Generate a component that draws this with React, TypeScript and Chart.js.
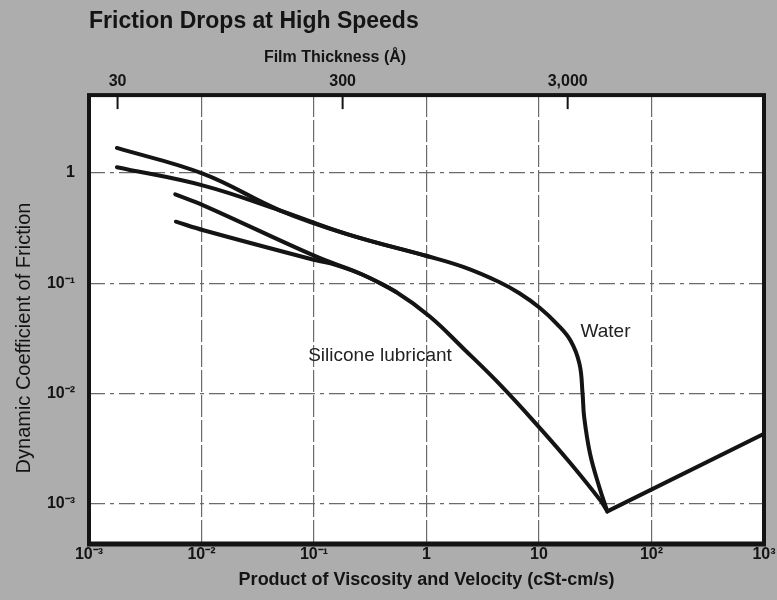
import React, { useEffect, useRef } from "react";
import { Chart, registerables } from "chart.js";

Chart.register(...registerables);

// ---------- data ----------
const xTicks = [1e-3, 1e-2, 1e-1, 1, 10, 100, 1000];
const xTickLabels = ["10⁻³", "10⁻²", "10⁻¹", "1", "10", "10²", "10³"];
const yTicks = [1, 0.1, 0.01, 0.001];
const yTickLabels = ["1", "10⁻¹", "10⁻²", "10⁻³"];
const filmTicks = [30, 300, 3000];
const filmTickLabels = ["30", "300", "3,000"];
const filmRange = [22.4, 22360];

// Water (two converging branches)
const water1X = [0.00177, 0.0104, 0.0502, 0.2, 1.045, 2.15, 4.42, 6.7, 10.2, 14.4, 19.05, 22.9, 24.4, 25.2, 28.4, 34.3, 40.5];
const water1Y = [1.69, 0.983, 0.457, 0.278, 0.175, 0.14, 0.1027, 0.0812, 0.0597, 0.0428, 0.0302, 0.01855, 0.00994, 0.0061, 0.00285, 0.00142, 0.00085];
const water2X = [0.00177, 0.0104, 0.0502, 0.2, 1.045];
const water2Y = [1.13, 0.77, 0.457, 0.278, 0.175];

// Silicone lubricant (two converging branches)
const silicone1X = [0.00584, 0.0105, 0.1026, 0.268, 0.537, 1.07, 2.16, 4.66, 10.1, 18.8, 35.1, 40.5];
const silicone1Y = [0.641, 0.507, 0.176, 0.12, 0.0834, 0.0499, 0.0252, 0.0116, 0.0049, 0.00236, 0.00107, 0.00085];
const silicone2X = [0.00592, 0.0106, 0.1026, 0.155, 0.268, 0.537];
const silicone2Y = [0.362, 0.301, 0.162, 0.147, 0.12, 0.0834];

// common rising branch at high speed
const riseX = [40.5, 1000];
const riseY = [0.00085, 0.0043];

// annotation anchors (data coordinates)
const waterLabelAt = [39, 0.0363];
const siliconeLabelAt = [0.386, 0.022];

// ---------- styling ----------
const FONT = "'Liberation Sans', Arial, Helvetica, sans-serif";
const BG = "#adadad";
const INK = "#141414";
const GRID = "#6a6a6a";

const pts = (xs: number[], ys: number[]) => xs.map((x, i) => ({ x, y: ys[i] }));

const lineDs = (label: string, xs: number[], ys: number[], tension = 0.4) => ({
  label,
  data: pts(xs, ys),
  borderColor: INK,
  borderWidth: 4,
  pointRadius: 0,
  fill: false,
  borderCapStyle: "round" as const,
  borderJoinStyle: "round" as const,
  tension,
});

const decorPlugin = {
  id: "decor",
  beforeDraw(chart: any) {
    const { ctx, chartArea: a, width, height } = chart;
    ctx.save();
    ctx.fillStyle = BG;
    ctx.fillRect(0, 0, width, height);
    ctx.fillStyle = "#ffffff";
    ctx.fillRect(a.left, a.top, a.right - a.left, a.bottom - a.top);
    ctx.restore();
  },
  afterDraw(chart: any) {
    const { ctx, chartArea: a, scales } = chart;
    ctx.save();
    // frame
    ctx.strokeStyle = INK;
    ctx.lineWidth = 4;
    ctx.strokeRect(a.left, a.top, a.right - a.left, a.bottom - a.top);
    ctx.lineWidth = 5;
    ctx.beginPath();
    ctx.moveTo(a.left - 2, a.bottom);
    ctx.lineTo(a.right + 2, a.bottom);
    ctx.stroke();
    // inward top tick marks (film thickness)
    ctx.lineWidth = 2;
    filmTicks.forEach((v) => {
      const px = scales.x2.getPixelForValue(v);
      ctx.beginPath();
      ctx.moveTo(px, a.top);
      ctx.lineTo(px, a.top + 14);
      ctx.stroke();
    });
    // curve labels
    ctx.fillStyle = "#222";
    ctx.textAlign = "center";
    ctx.textBaseline = "middle";
    ctx.font = `19px ${FONT}`;
    ctx.fillText("Water", scales.x.getPixelForValue(waterLabelAt[0]), scales.y.getPixelForValue(waterLabelAt[1]));
    ctx.fillText(
      "Silicone lubricant",
      scales.x.getPixelForValue(siliconeLabelAt[0]),
      scales.y.getPixelForValue(siliconeLabelAt[1])
    );
    // top axis title
    ctx.fillStyle = INK;
    ctx.font = `bold 16px ${FONT}`;
    ctx.fillText("Film Thickness (Å)", 335, 58);
    // y axis title
    ctx.translate(24, 338);
    ctx.rotate(-Math.PI / 2);
    ctx.font = `20px ${FONT}`;
    ctx.fillText("Dynamic Coefficient of Friction", 0, 0);
    ctx.restore();
  },
};

export default function App() {
  const ref = useRef<HTMLCanvasElement | null>(null);

  useEffect(() => {
    document.body.style.margin = "0";
    const canvas = ref.current;
    if (!canvas) return;
    const chart = new Chart(canvas, {
      type: "line",
      data: {
        datasets: [
          lineDs("Water", water1X, water1Y),
          lineDs("Water (branch)", water2X, water2Y),
          lineDs("Silicone lubricant", silicone1X, silicone1Y),
          lineDs("Silicone lubricant (branch)", silicone2X, silicone2Y),
          lineDs("High-speed branch", riseX, riseY, 0),
        ],
      },
      options: {
        responsive: false,
        animation: false,
        events: [],
        layout: { padding: { left: 0, right: 13, top: 0, bottom: 0 } },
        plugins: {
          legend: { display: false },
          tooltip: { enabled: false },
          title: {
            display: true,
            text: "Friction Drops at High Speeds",
            align: "start",
            fullSize: false,
            color: INK,
            font: { family: FONT, size: 23, weight: "bold" },
            padding: { top: 7.5, bottom: 0 },
          },
        },
        scales: {
          x: {
            type: "logarithmic",
            position: "bottom",
            min: 1e-3,
            max: 1e3,
            afterBuildTicks: (s: any) => {
              s.ticks = xTicks.map((v) => ({ value: v }));
            },
            afterFit: (s: any) => {
              s.height = 56;
            },
            ticks: {
              autoSkip: false,
              maxRotation: 0,
              padding: 1,
              color: INK,
              font: { family: FONT, size: 16, weight: "bold" },
              callback: (v: any) => {
                const i = xTicks.findIndex((t) => Math.abs(Math.log10(t) - Math.log10(Number(v))) < 1e-6);
                return i >= 0 ? xTickLabels[i] : "";
              },
            },
            grid: { color: GRID, lineWidth: 1.2, drawTicks: false },
            border: { display: false, dash: [22, 3] },
            title: {
              display: true,
              text: "Product of Viscosity and Velocity (cSt-cm/s)",
              color: INK,
              font: { family: FONT, size: 18, weight: "bold" },
              padding: { top: 0, bottom: 9 },
            },
          },
          x2: {
            type: "logarithmic",
            position: "top",
            min: filmRange[0],
            max: filmRange[1],
            afterBuildTicks: (s: any) => {
              s.ticks = filmTicks.map((v) => ({ value: v }));
            },
            afterFit: (s: any) => {
              s.height = 60;
            },
            ticks: {
              autoSkip: false,
              maxRotation: 0,
              padding: 4,
              color: INK,
              font: { family: FONT, size: 16, weight: "bold" },
              callback: (v: any) => {
                const i = filmTicks.findIndex((t) => Math.abs(t - Number(v)) < 1e-6);
                return i >= 0 ? filmTickLabels[i] : "";
              },
            },
            grid: { drawOnChartArea: false, drawTicks: false },
            border: { display: false },
          },
          y: {
            type: "logarithmic",
            position: "left",
            min: 4.3e-4,
            max: 5.1,
            afterBuildTicks: (s: any) => {
              s.ticks = yTicks.map((v) => ({ value: v }));
            },
            afterFit: (s: any) => {
              s.width = 89;
            },
            ticks: {
              autoSkip: false,
              padding: 14,
              color: INK,
              font: { family: FONT, size: 16, weight: "bold" },
              callback: (v: any) => {
                const i = yTicks.findIndex((t) => Math.abs(Math.log10(t) - Math.log10(Number(v))) < 1e-6);
                return i >= 0 ? yTickLabels[i] : "";
              },
            },
            grid: { color: GRID, lineWidth: 1.2, drawTicks: false },
            border: { display: false, dash: [16, 5, 4, 5] },
          },
        },
      },
      plugins: [decorPlugin],
    } as any);
    return () => chart.destroy();
  }, []);

  return (
    <div style={{ width: 777, height: 600 }}>
      <canvas ref={ref} width={777} height={600} style={{ display: "block" }} />
    </div>
  );
}
